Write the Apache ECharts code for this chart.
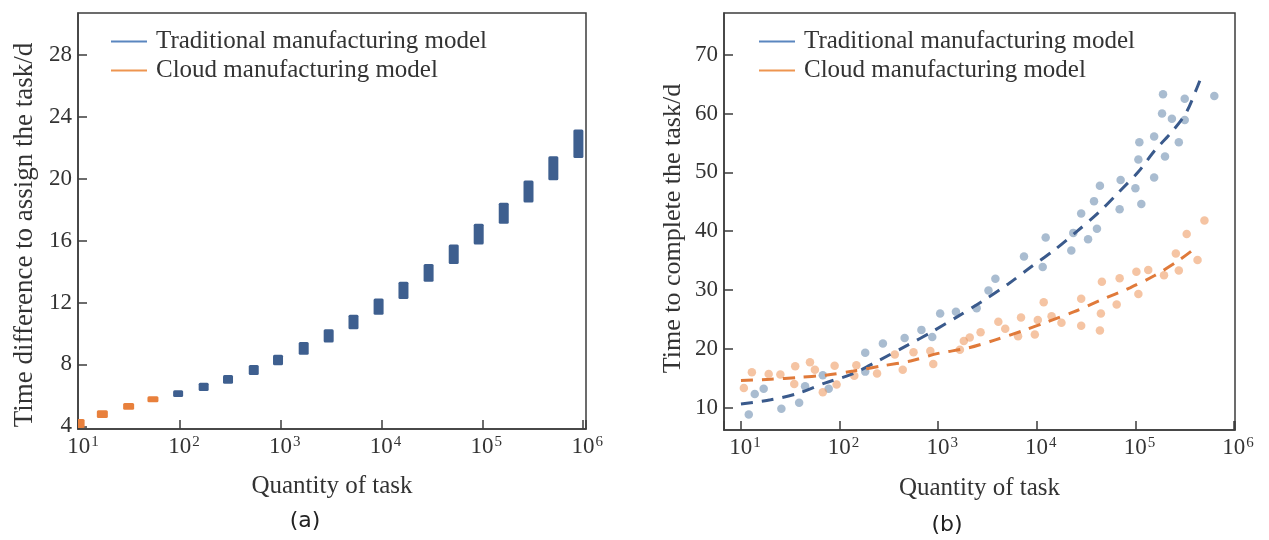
<!DOCTYPE html>
<html>
<head>
<meta charset="utf-8">
<script src="https://cdn.jsdelivr.net/npm/echarts@6/dist/echarts.min.js"></script>
<style>
html,body{margin:0;padding:0;background:#fff;}
#chart{width:1269px;height:540px;}
</style>
</head>
<body>
<div id="chart"></div>
<script>
// ---------- Panel (a): time difference to assign the task ----------
const cloudQtyA  = [10, 17, 31, 54];
const cloudLowA  = [3.89, 4.54, 5.08, 5.56];
const cloudHighA = [4.48, 5.04, 5.51, 5.95];

const tradQtyA  = [96, 172, 300, 540, 940, 1690, 2990, 5270, 9350, 16500, 29300, 52000, 92000, 163000, 287000, 506000, 897000];
const tradLowA  = [5.90, 6.29, 6.75, 7.31, 7.94, 8.63, 9.41, 10.27, 11.20, 12.22, 13.34, 14.49, 15.74, 17.08, 18.45, 19.89, 21.33];
const tradHighA = [6.34, 6.81, 7.31, 7.96, 8.63, 9.45, 10.27, 11.20, 12.26, 13.34, 14.49, 15.74, 17.08, 18.44, 19.87, 21.44, 23.16];

const yTicksA = [4, 8, 12, 16, 20, 24, 28];

// ---------- Panel (b): time to complete the task ----------
const tradPointsB = [
  [12.0, 8.8], [13.8, 12.3], [17.0, 13.2], [25.7, 9.8], [38.9, 10.8], [44.7, 13.6],
  [67.6, 15.5], [77.6, 13.2], [182, 19.3], [182, 16.1], [275, 20.9], [457, 21.8],
  [676, 23.2], [871, 22.0], [1047, 26.0], [1514, 26.3], [2455, 26.9], [3236, 29.9],
  [3802, 31.9], [7413, 35.7], [11482, 33.9], [12303, 38.9], [22387, 36.7], [23442, 39.7],
  [28184, 43.0], [33113, 38.6], [38019, 45.1], [40738, 40.4], [43652, 47.7], [69183, 43.7],
  [70795, 48.7], [100000, 47.3], [109648, 55.1], [107152, 52.2], [114815, 44.6],
  [154882, 49.1], [154882, 56.1], [186209, 60.0], [190546, 63.3], [199526, 52.7],
  [234423, 59.1], [275423, 55.1], [316228, 62.5], [316228, 58.9], [630957, 63.0]
];
const cloudPointsB = [
  [10.7, 13.3], [12.9, 16.0], [19.1, 15.7], [25.1, 15.6], [34.7, 14.0], [35.5, 17.0],
  [50.1, 17.7], [56.2, 16.4], [67.6, 12.6], [89.1, 17.1], [93.3, 13.9], [141, 15.4],
  [148, 17.2], [240, 15.8], [363, 19.0], [437, 16.4], [562, 19.4], [832, 19.6],
  [891, 17.4], [1660, 19.8], [1820, 21.3], [2089, 21.9], [2692, 22.8], [4074, 24.6],
  [4786, 23.4], [6457, 22.1], [6918, 25.3], [9550, 22.4], [10233, 24.9], [11749, 27.9],
  [14125, 25.5], [17783, 24.4], [28184, 28.5], [28184, 23.9], [44668, 26.0], [43652, 23.1],
  [45709, 31.4], [64565, 27.5], [69183, 32.0], [102329, 33.1], [107152, 29.3],
  [134896, 33.4], [194984, 32.5], [257040, 36.2], [275423, 33.3], [331131, 39.5],
  [426580, 35.1], [501187, 41.8]
];
const tradFitQtyB = [10, 20, 38, 72, 135, 257, 490, 871, 1585, 2754, 5129, 8710, 15136, 25704, 42658, 67608, 107152, 158489, 223872, 323594, 426580, 467735];
const tradFitValB = [10.6, 11.3, 12.4, 14.2, 15.7, 18.1, 20.6, 22.9, 25.5, 28.0, 31.0, 33.9, 36.8, 40.0, 43.2, 46.6, 50.1, 53.8, 56.5, 60.0, 64.6, 66.3];
const cloudFitQtyB = [10, 20, 38, 72, 138, 275, 525, 1000, 1995, 3802, 7079, 12882, 23988, 43652, 89125, 154882, 269153, 426580];
const cloudFitValB = [14.6, 14.8, 15.1, 15.5, 16.2, 17.1, 17.9, 19.2, 20.1, 21.5, 23.0, 24.6, 26.3, 28.2, 30.4, 32.4, 34.9, 37.4];

const yTicksB = [10, 20, 30, 40, 50, 60, 70];

const nameTrad = 'Traditional manufacturing model';
const nameCloud = 'Cloud manufacturing model';

// ---------- styles ----------
const SERIF = 'Liberation Serif';
const TXT = '#333333';
const AX = '#3d3d3d';

function pow10Label(v) {
  const l = Math.log10(v);
  const e = Math.round(l);
  if (Math.abs(l - e) > 1e-6) return '';
  return '{pad|}{b|10}{s|' + e + '}';
}
const xLabelRich = {
  pad: { width: 8 },
  b: { fontFamily: SERIF, fontSize: 23, color: TXT },
  s: { fontFamily: SERIF, fontSize: 15, color: TXT, verticalAlign: 'top', padding: [0, 0, 3, 1] }
};

function xAxisCfg(grid, min, max, gap) {
  return {
    type: 'log', logBase: 10, gridIndex: grid, min: min, max: max,
    name: 'Quantity of task', nameLocation: 'middle', nameGap: gap,
    nameTextStyle: { fontFamily: SERIF, fontSize: 25, color: TXT },
    axisLine: { show: true, lineStyle: { color: AX, width: 1.5 } },
    axisTick: { show: true, inside: true, length: 9, lineStyle: { color: AX, width: 1.5 } },
    minorTick: { show: false },
    splitLine: { show: false },
    axisLabel: { margin: 6, formatter: pow10Label, rich: xLabelRich }
  };
}
function yAxisCfg(grid, min, max, ticks, name, gap, pad, fs) {
  return {
    type: 'value', gridIndex: grid, min: min, max: max,
    name: name, nameLocation: 'middle', nameGap: gap,
    nameTextStyle: { fontFamily: SERIF, fontSize: fs, color: TXT, padding: pad },
    axisLine: { show: true, lineStyle: { color: AX, width: 1.5 } },
    axisTick: { show: true, inside: true, length: 9, customValues: ticks, lineStyle: { color: AX, width: 1.5 } },
    splitLine: { show: false },
    axisLabel: { margin: 6, customValues: ticks, fontFamily: SERIF, fontSize: 23, color: TXT }
  };
}

function rangeBar(color, w) {
  return function (params, api) {
    const x = api.value(0), lo = api.value(1), hi = api.value(2);
    const pHi = api.coord([x, hi]);
    const pLo = api.coord([x, lo]);
    return {
      type: 'rect',
      shape: { x: pHi[0] - w / 2, y: pHi[1], width: w, height: pLo[1] - pHi[1], r: 1.5 },
      style: { fill: color }
    };
  };
}

const cloudDataA = cloudQtyA.map((q, i) => [q, cloudLowA[i], cloudHighA[i]]);
const tradDataA = tradQtyA.map((q, i) => [q, tradLowA[i], tradHighA[i]]);

function legendCfg(left) {
  return {
    orient: 'vertical', left: left, top: 24, itemGap: 4,
    itemWidth: 36, itemHeight: 2, icon: 'rect',
    textStyle: { fontFamily: SERIF, fontSize: 25, color: TXT, lineHeight: 25, padding: [0, 0, 0, 4] },
    data: [
      { name: nameTrad, itemStyle: { color: '#5a86bf' } },
      { name: nameCloud, itemStyle: { color: '#ee9550' } }
    ],
    selectedMode: false
  };
}

const chart = echarts.init(document.getElementById('chart'), null, { renderer: 'canvas' });
chart.setOption({
  backgroundColor: '#ffffff',
  animation: false,
  grid: [
    { left: 78, top: 13, width: 508, height: 416, show: true, borderColor: AX, borderWidth: 1.5, backgroundColor: 'transparent' },
    { left: 724, top: 13, width: 511, height: 417, show: true, borderColor: AX, borderWidth: 1.5, backgroundColor: 'transparent' }
  ],
  xAxis: [
    xAxisCfg(0, 9.75, 1.067e6, 45),
    xAxisCfg(1, 6.73, 1.023e6, 46)
  ],
  yAxis: [
    yAxisCfg(0, 3.83, 30.69, yTicksA, 'Time difference to assign the task/d', 40, [0, 28, 0, 0], 27),
    yAxisCfg(1, 6.17, 77.1, yTicksB, 'Time to complete the task/d', 38, [0, 14, 0, 0], 26)
  ],
  legend: [legendCfg(106), legendCfg(754)],
  graphic: [
    { type: 'text', x: 305, y: 521, style: { text: '(a)', font: '22px "DejaVu Sans"', fill: '#222', textAlign: 'center', textVerticalAlign: 'middle' } },
    { type: 'text', x: 947, y: 525, style: { text: '(b)', font: '22px "DejaVu Sans"', fill: '#222', textAlign: 'center', textVerticalAlign: 'middle' } }
  ],
  series: [
    {
      name: nameCloud, type: 'custom', xAxisIndex: 0, yAxisIndex: 0,
      renderItem: rangeBar('#e8803c', 11), encode: { x: 0, y: [1, 2] }, data: cloudDataA, clip: true,
      itemStyle: { color: '#ee9550' }
    },
    {
      name: nameTrad, type: 'custom', xAxisIndex: 0, yAxisIndex: 0,
      renderItem: rangeBar('#3e5f8f', 10), encode: { x: 0, y: [1, 2] }, data: tradDataA, clip: true,
      itemStyle: { color: '#5a86bf' }
    },
    {
      name: nameTrad, type: 'scatter', xAxisIndex: 1, yAxisIndex: 1, symbolSize: 8.5,
      itemStyle: { color: '#7090b0', opacity: 0.6 }, data: tradPointsB, z: 2
    },
    {
      name: nameCloud, type: 'scatter', xAxisIndex: 1, yAxisIndex: 1, symbolSize: 8.5,
      itemStyle: { color: '#ee9d66', opacity: 0.6 }, data: cloudPointsB, z: 2
    },
    {
      name: nameTrad, type: 'line', xAxisIndex: 1, yAxisIndex: 1, showSymbol: false, smooth: 0.3,
      lineStyle: { color: '#3a5a8c', width: 3, type: [12, 9] },
      data: tradFitQtyB.map((q, i) => [q, tradFitValB[i]]), z: 3
    },
    {
      name: nameCloud, type: 'line', xAxisIndex: 1, yAxisIndex: 1, showSymbol: false, smooth: 0.3,
      lineStyle: { color: '#e07a3a', width: 3, type: [12, 9] },
      data: cloudFitQtyB.map((q, i) => [q, cloudFitValB[i]]), z: 3
    }
  ]
});
</script>
</body>
</html>
